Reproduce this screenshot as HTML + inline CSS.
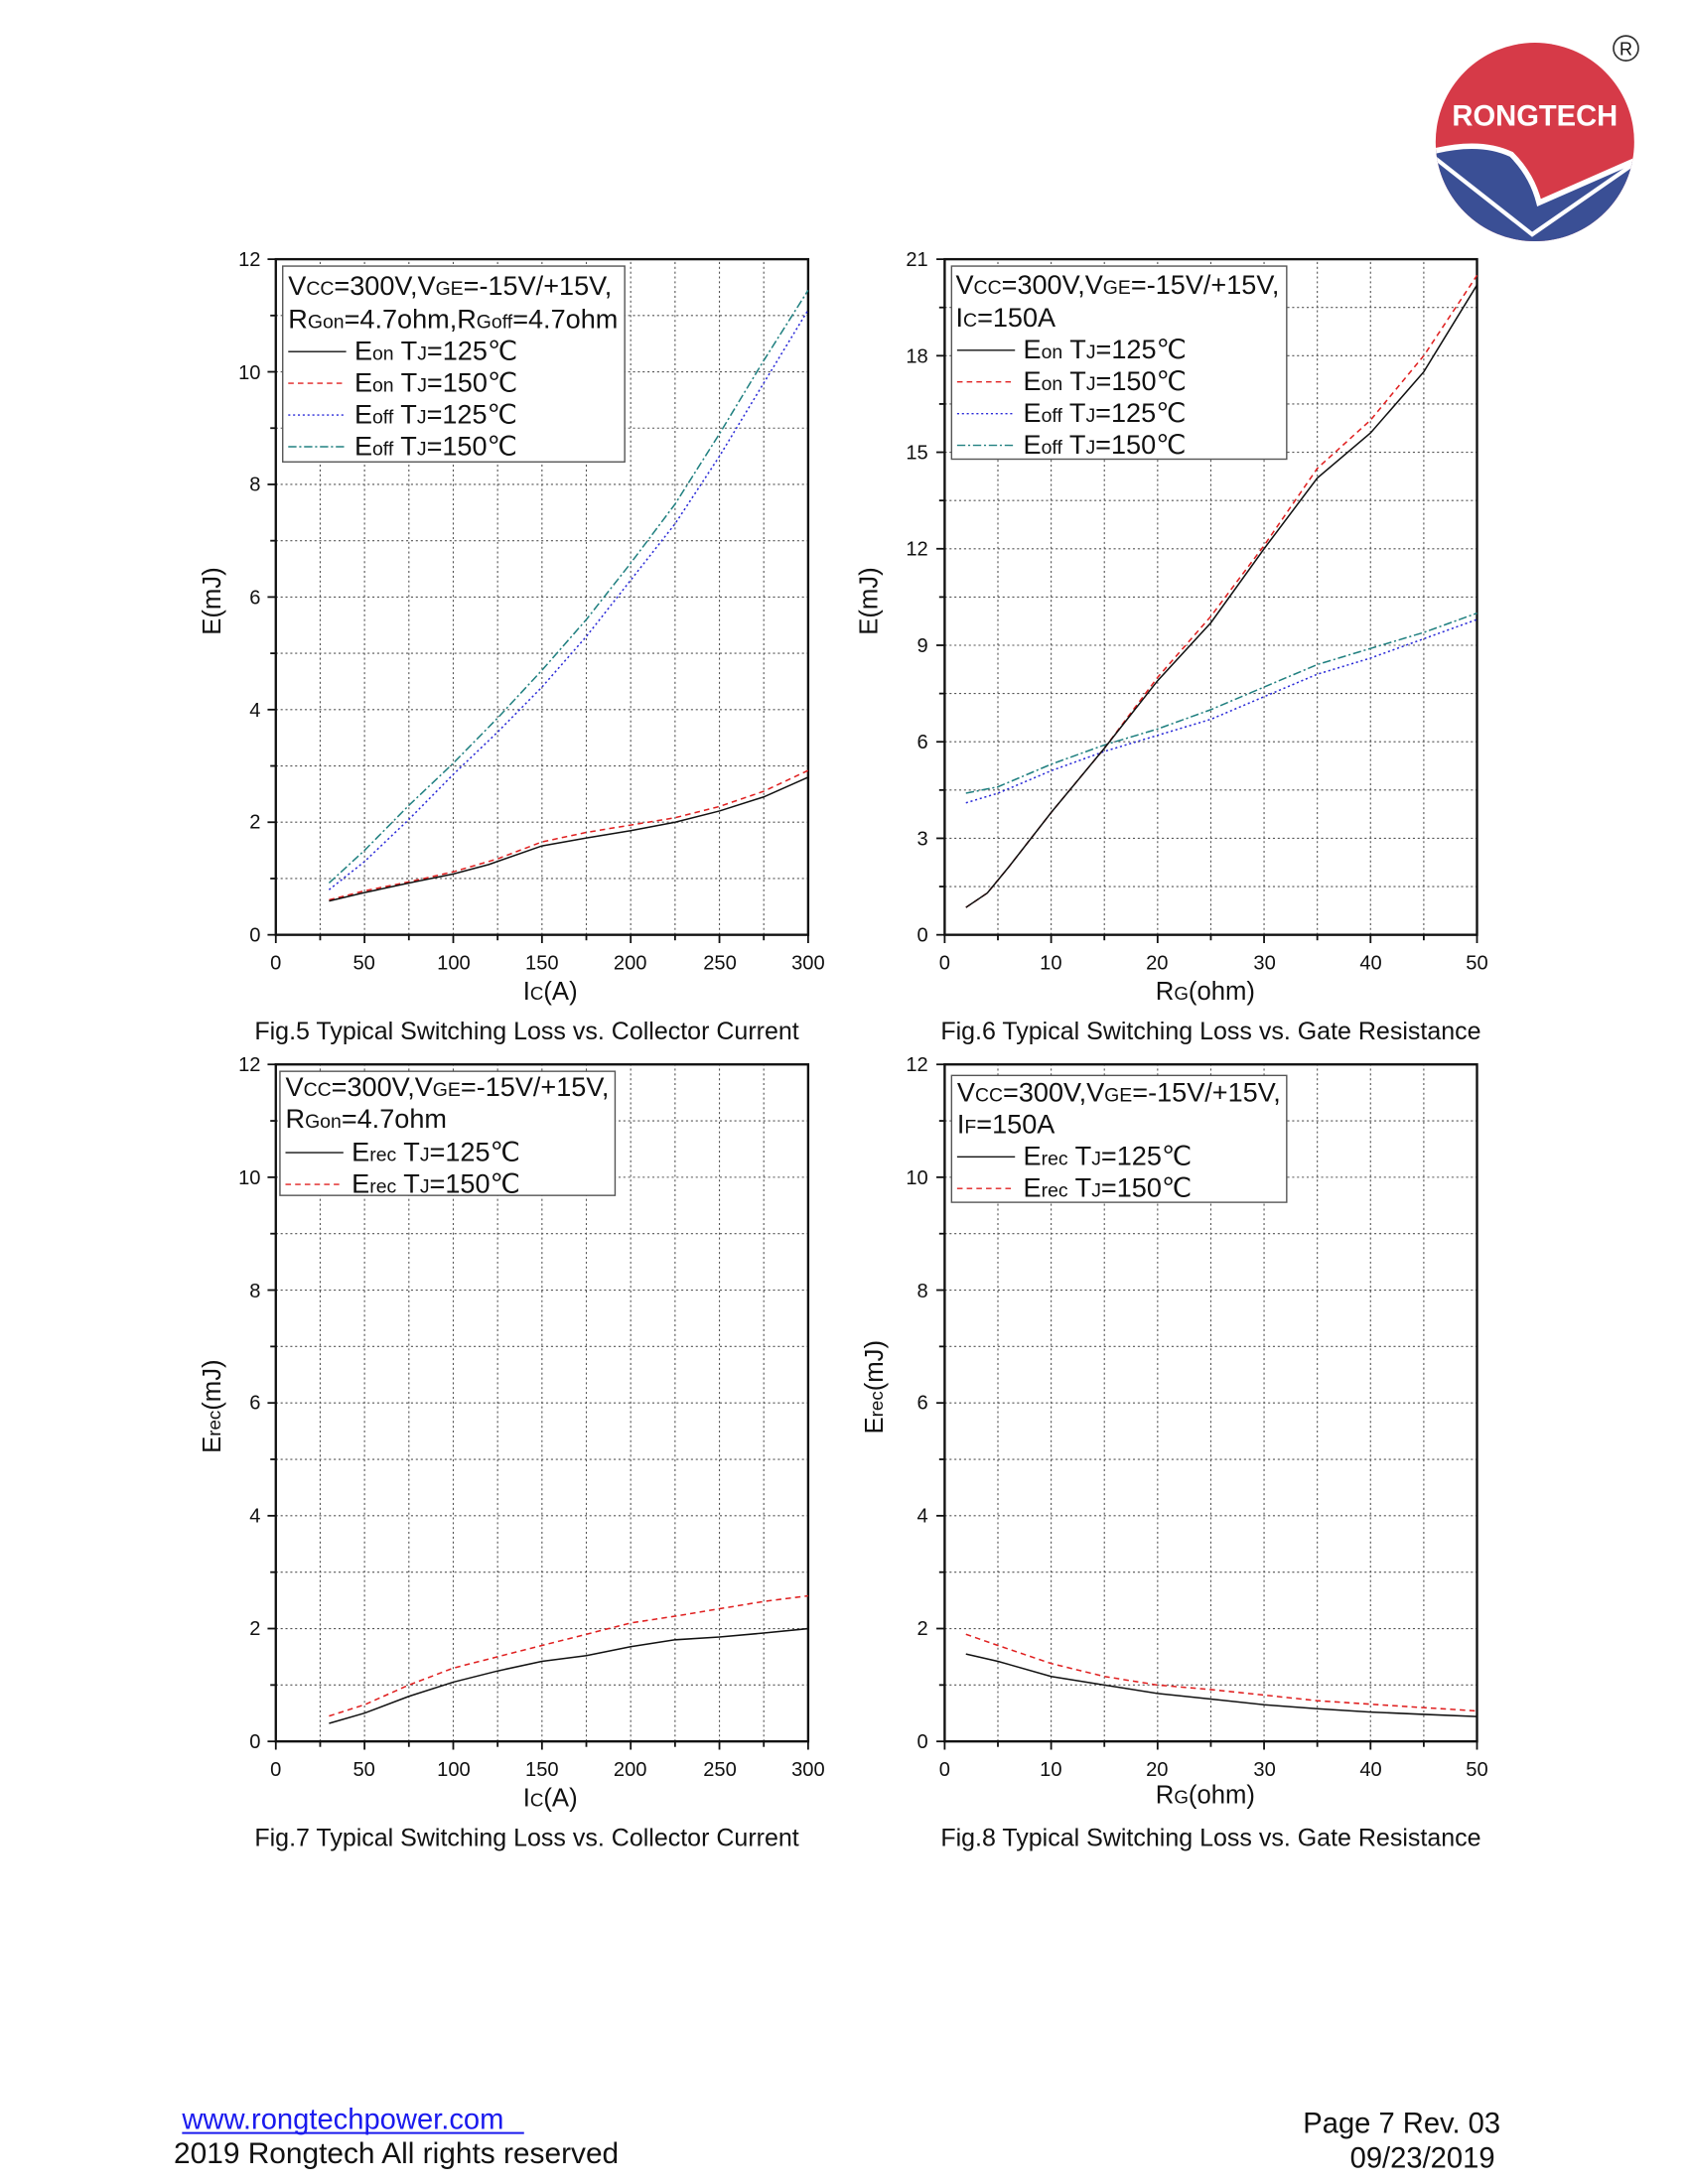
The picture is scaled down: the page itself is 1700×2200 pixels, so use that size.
<!DOCTYPE html>
<html><head><meta charset="utf-8"><style>
html,body{margin:0;padding:0;background:#fff}
svg{display:block}
text{font-family:"Liberation Sans",Arial,sans-serif;fill:#111}
</style></head><body>
<svg id="s" width="1700" height="2200" viewBox="0 0 1224 1584" xmlns="http://www.w3.org/2000/svg">
<rect width="1224" height="1584" fill="#fff"/>
<g transform="translate(11,2)">
<defs><clipPath id="lc"><circle cx="1102" cy="101" r="72"/></clipPath></defs>
<g clip-path="url(#lc)">
<rect x="1020" y="20" width="170" height="170" fill="#d63a48"/>
<path d="M1020 110 Q1060 98 1085 110 Q1100 125 1105 145 L1180 112 L1190 112 L1190 190 L1020 190 Z" fill="#3a4f95"/>
<path d="M1030 113 L1100 168 L1172 118" stroke="#fff" stroke-width="3" fill="none"/>
<path d="M1020 110 Q1060 98 1085 110 Q1100 125 1105 145 L1180 112" stroke="#fff" stroke-width="4" fill="none"/>
</g>
<text x="1102" y="89" font-size="21" font-weight="bold" text-anchor="middle" style="fill:#fff">RONGTECH</text>
<circle cx="1168" cy="33" r="9" fill="none" stroke="#333" stroke-width="1.2"/>
<text x="1168" y="38" font-size="13" text-anchor="middle" font-family="Liberation Serif">R</text>
</g>
<g id="grids"></g>
<g font-size="14.5">
<g text-anchor="end"><text x="189" y="683">0</text><text x="189" y="601">2</text><text x="189" y="520">4</text><text x="189" y="438">6</text><text x="189" y="356">8</text><text x="189" y="275">10</text><text x="189" y="193">12</text>
<text x="673" y="683">0</text><text x="673" y="613">3</text><text x="673" y="543">6</text><text x="673" y="473">9</text><text x="673" y="403">12</text><text x="673" y="333">15</text><text x="673" y="263">18</text><text x="673" y="193">21</text>
<text x="189" y="1268">0</text><text x="189" y="1186">2</text><text x="189" y="1104">4</text><text x="189" y="1022">6</text><text x="189" y="941">8</text><text x="189" y="859">10</text><text x="189" y="777">12</text>
<text x="673" y="1268">0</text><text x="673" y="1186">2</text><text x="673" y="1104">4</text><text x="673" y="1022">6</text><text x="673" y="941">8</text><text x="673" y="859">10</text><text x="673" y="777">12</text></g>
<g text-anchor="middle"><text x="200" y="703">0</text><text x="264" y="703">50</text><text x="329" y="703">100</text><text x="393" y="703">150</text><text x="457" y="703">200</text><text x="522" y="703">250</text><text x="586" y="703">300</text>
<text x="685" y="703">0</text><text x="762" y="703">10</text><text x="839" y="703">20</text><text x="917" y="703">30</text><text x="994" y="703">40</text><text x="1071" y="703">50</text>
<text x="200" y="1288">0</text><text x="264" y="1288">50</text><text x="329" y="1288">100</text><text x="393" y="1288">150</text><text x="457" y="1288">200</text><text x="522" y="1288">250</text><text x="586" y="1288">300</text>
<text x="685" y="1288">0</text><text x="762" y="1288">10</text><text x="839" y="1288">20</text><text x="917" y="1288">30</text><text x="994" y="1288">40</text><text x="1071" y="1288">50</text></g>
</g>
<g font-size="18.5" text-anchor="middle">
<text x="399" y="725">I<tspan font-size="13.5">C</tspan>(A)</text>
<text x="874" y="725">R<tspan font-size="13.5">G</tspan>(ohm)</text>
<text x="399" y="1310">I<tspan font-size="13.5">C</tspan>(A)</text>
<text x="874" y="1308">R<tspan font-size="13.5">G</tspan>(ohm)</text>
<text transform="translate(160,436) rotate(-90)">E(mJ)</text>
<text transform="translate(636,436) rotate(-90)">E(mJ)</text>
<text transform="translate(160,1020) rotate(-90)">E<tspan font-size="13.5">rec</tspan>(mJ)</text>
<text transform="translate(640,1006) rotate(-90)">E<tspan font-size="13.5">rec</tspan>(mJ)</text>
</g>
<g font-size="18" text-anchor="middle">
<text x="382" y="754">Fig.5 Typical Switching Loss vs. Collector Current</text>
<text x="878" y="754">Fig.6 Typical Switching Loss vs. Gate Resistance</text>
<text x="382" y="1339">Fig.7 Typical Switching Loss vs. Collector Current</text>
<text x="878" y="1339">Fig.8 Typical Switching Loss vs. Gate Resistance</text>
</g>
<g font-size="19.5">
<rect x="205" y="193" width="248" height="142" fill="#fff" stroke="#555"/>
<text x="209" y="214">V<tspan font-size="14">CC</tspan>=300V,V<tspan font-size="14">GE</tspan>=-15V/+15V,</text>
<text x="209" y="238">R<tspan font-size="14">Gon</tspan>=4.7ohm,R<tspan font-size="14">Goff</tspan>=4.7ohm</text>
<text x="257" y="261">E<tspan font-size="14">on</tspan> T<tspan font-size="14">J</tspan>=125℃</text>
<text x="257" y="284">E<tspan font-size="14">on</tspan> T<tspan font-size="14">J</tspan>=150℃</text>
<text x="257" y="307">E<tspan font-size="14">off</tspan> T<tspan font-size="14">J</tspan>=125℃</text>
<text x="257" y="330">E<tspan font-size="14">off</tspan> T<tspan font-size="14">J</tspan>=150℃</text>
<rect x="690" y="193" width="243" height="140" fill="#fff" stroke="#555"/>
<text x="693" y="213">V<tspan font-size="14">CC</tspan>=300V,V<tspan font-size="14">GE</tspan>=-15V/+15V,</text>
<text x="693" y="237">I<tspan font-size="14">C</tspan>=150A</text>
<text x="742" y="260">E<tspan font-size="14">on</tspan> T<tspan font-size="14">J</tspan>=125℃</text>
<text x="742" y="283">E<tspan font-size="14">on</tspan> T<tspan font-size="14">J</tspan>=150℃</text>
<text x="742" y="306">E<tspan font-size="14">off</tspan> T<tspan font-size="14">J</tspan>=125℃</text>
<text x="742" y="329">E<tspan font-size="14">off</tspan> T<tspan font-size="14">J</tspan>=150℃</text>
<rect x="203" y="777" width="243" height="90" fill="#fff" stroke="#555"/>
<text x="207" y="795">V<tspan font-size="14">CC</tspan>=300V,V<tspan font-size="14">GE</tspan>=-15V/+15V,</text>
<text x="207" y="818">R<tspan font-size="14">Gon</tspan>=4.7ohm</text>
<text x="255" y="842">E<tspan font-size="14">rec</tspan> T<tspan font-size="14">J</tspan>=125℃</text>
<text x="255" y="865">E<tspan font-size="14">rec</tspan> T<tspan font-size="14">J</tspan>=150℃</text>
<rect x="690" y="780" width="243" height="92" fill="#fff" stroke="#555"/>
<text x="694" y="799">V<tspan font-size="14">CC</tspan>=300V,V<tspan font-size="14">GE</tspan>=-15V/+15V,</text>
<text x="694" y="822">I<tspan font-size="14">F</tspan>=150A</text>
<text x="742" y="845">E<tspan font-size="14">rec</tspan> T<tspan font-size="14">J</tspan>=125℃</text>
<text x="742" y="868">E<tspan font-size="14">rec</tspan> T<tspan font-size="14">J</tspan>=150℃</text>
</g>
<g stroke-width="1" fill="none">
<line x1="209" y1="255" x2="251" y2="255" stroke="#111"/>
<line x1="209" y1="278" x2="251" y2="278" stroke="#e02020" stroke-dasharray="4,3"/>
<line x1="209" y1="301" x2="251" y2="301" stroke="#2a2ad8" stroke-dasharray="1.5,2"/>
<line x1="209" y1="324" x2="251" y2="324" stroke="#208080" stroke-dasharray="6,2,1.5,2"/>
<line x1="694" y1="254" x2="736" y2="254" stroke="#111"/>
<line x1="694" y1="277" x2="736" y2="277" stroke="#e02020" stroke-dasharray="4,3"/>
<line x1="694" y1="300" x2="736" y2="300" stroke="#2a2ad8" stroke-dasharray="1.5,2"/>
<line x1="694" y1="323" x2="736" y2="323" stroke="#208080" stroke-dasharray="6,2,1.5,2"/>
<line x1="207" y1="836" x2="249" y2="836" stroke="#111"/>
<line x1="207" y1="859" x2="249" y2="859" stroke="#e02020" stroke-dasharray="4,3"/>
<line x1="694" y1="839" x2="736" y2="839" stroke="#111"/>
<line x1="694" y1="862" x2="736" y2="862" stroke="#e02020" stroke-dasharray="4,3"/>
</g>
<g id="curves"></g>
<text x="132" y="1544" font-size="21" style="fill:#1a1aee">www.rongtechpower.com</text>
<line x1="132" y1="1547" x2="380" y2="1547" stroke="#1a1aee" stroke-width="1.5"/>
<text x="126" y="1569" font-size="21.5">2019 Rongtech All rights reserved</text>
<text x="1088" y="1547" font-size="21" text-anchor="end">Page 7  Rev. 03</text>
<text x="1084" y="1572" font-size="21" text-anchor="end">09/23/2019</text>
</svg>
<script>
var NS="http://www.w3.org/2000/svg";
function el(p,t,a){var e=document.createElementNS(NS,t);for(var k in a)e.setAttribute(k,a[k]);p.appendChild(e);return e;}
var G=document.getElementById("grids"),C=document.getElementById("curves");
var charts=[
 {x0:200,x1:586,y0:678,y1:188,xm:300,ym:12,xs:25,ys:1,xmaj:50,ymaj:2},
 {x0:685,x1:1071,y0:678,y1:188,xm:50,ym:21,xs:5,ys:1.5,xmaj:10,ymaj:3},
 {x0:200,x1:586,y0:1263,y1:772,xm:300,ym:12,xs:25,ys:1,xmaj:50,ymaj:2},
 {x0:685,x1:1071,y0:1263,y1:772,xm:50,ym:12,xs:5,ys:1,xmaj:10,ymaj:2}];
charts.forEach(function(c){
 for(var v=c.xs;v<c.xm-1e-6;v+=c.xs){var x=c.x0+(c.x1-c.x0)*v/c.xm;el(G,"line",{x1:x,x2:x,y1:c.y0,y2:c.y1,stroke:"#555","stroke-width":0.8,"stroke-dasharray":"1.5,2"});}
 for(var v=c.ys;v<c.ym-1e-6;v+=c.ys){var y=c.y0+(c.y1-c.y0)*v/c.ym;el(G,"line",{x1:c.x0,x2:c.x1,y1:y,y2:y,stroke:"#555","stroke-width":0.8,"stroke-dasharray":"1.5,2"});}
 for(var v=0;v<=c.xm+1e-6;v+=c.xs){var x=c.x0+(c.x1-c.x0)*v/c.xm;var L=(Math.abs(v/c.xmaj-Math.round(v/c.xmaj))<1e-6)?6:4;el(G,"line",{x1:x,x2:x,y1:c.y0,y2:c.y0+L,stroke:"#111","stroke-width":1.3});}
 for(var v=0;v<=c.ym+1e-6;v+=c.ys){var y=c.y0+(c.y1-c.y0)*v/c.ym;var L=(Math.abs(v/c.ymaj-Math.round(v/c.ymaj))<1e-6)?6:4;el(G,"line",{x1:c.x0-L,x2:c.x0,y1:y,y2:y,stroke:"#111","stroke-width":1.3});}
 el(G,"rect",{x:c.x0,y:c.y1,width:c.x1-c.x0,height:c.y0-c.y1,fill:"none",stroke:"#111","stroke-width":1.7});
});
var ST={k:{stroke:"#111"},r:{stroke:"#e02020","stroke-dasharray":"4,3"},b:{stroke:"#2a2ad8","stroke-dasharray":"1.5,2"},t:{stroke:"#208080","stroke-dasharray":"6,2,1.5,2"}};
function curve(ci,s,pts){var c=charts[ci];var d=pts.map(function(p,i){return (i?"L":"M")+(c.x0+(c.x1-c.x0)*p[0]/c.xm).toFixed(1)+" "+(c.y0+(c.y1-c.y0)*p[1]/c.ym).toFixed(1);}).join(" ");
 var a={d:d,fill:"none","stroke-width":1.1};for(var k in ST[s])a[k]=ST[s][k];el(C,"path",a);}
curve(0,"b",[[30,0.8],[50,1.3],[75,2.05],[100,2.85],[125,3.6],[150,4.4],[175,5.3],[200,6.3],[225,7.3],[250,8.5],[275,9.8],[300,11.1]]);
curve(0,"t",[[30,0.92],[50,1.5],[75,2.3],[100,3.05],[125,3.85],[150,4.7],[175,5.6],[200,6.6],[225,7.65],[250,8.9],[275,10.2],[300,11.45]]);
curve(0,"r",[[30,0.62],[50,0.78],[75,0.94],[100,1.12],[125,1.35],[150,1.65],[175,1.82],[200,1.95],[225,2.08],[250,2.28],[275,2.55],[300,2.92]]);
curve(0,"k",[[30,0.6],[50,0.75],[75,0.92],[100,1.08],[120,1.25],[150,1.58],[175,1.72],[200,1.85],[225,2.0],[250,2.2],[275,2.45],[300,2.8]]);
curve(1,"b",[[2,4.1],[5,4.4],[10,5.1],[15,5.7],[20,6.2],[25,6.7],[30,7.4],[35,8.1],[40,8.6],[45,9.2],[50,9.8]]);
curve(1,"t",[[2,4.4],[5,4.6],[10,5.3],[15,5.9],[20,6.4],[25,7],[30,7.7],[35,8.4],[40,8.9],[45,9.4],[50,10]]);
curve(1,"r",[[2,0.85],[4,1.3],[6,2.1],[10,3.8],[15,5.8],[20,8.0],[25,9.9],[30,12.1],[35,14.5],[40,16],[45,18],[50,20.5]]);
curve(1,"k",[[2,0.85],[4,1.3],[6,2.1],[10,3.8],[15,5.8],[20,7.9],[25,9.7],[30,12],[35,14.2],[40,15.6],[45,17.5],[50,20.2]]);
curve(2,"r",[[30,0.45],[50,0.65],[75,1.0],[100,1.3],[125,1.5],[150,1.7],[175,1.9],[200,2.1],[225,2.22],[250,2.35],[275,2.48],[300,2.58]]);
curve(2,"k",[[30,0.32],[50,0.5],[75,0.8],[100,1.05],[125,1.25],[150,1.42],[175,1.52],[200,1.68],[225,1.8],[250,1.85],[275,1.92],[300,2.0]]);
curve(3,"r",[[2,1.9],[5,1.7],[10,1.38],[15,1.15],[20,1.0],[25,0.92],[30,0.82],[35,0.72],[40,0.66],[45,0.6],[50,0.54]]);
curve(3,"k",[[2,1.55],[5,1.42],[10,1.15],[15,1.0],[20,0.85],[25,0.75],[30,0.65],[35,0.58],[40,0.52],[45,0.48],[50,0.44]]);
</script>
</body></html>
